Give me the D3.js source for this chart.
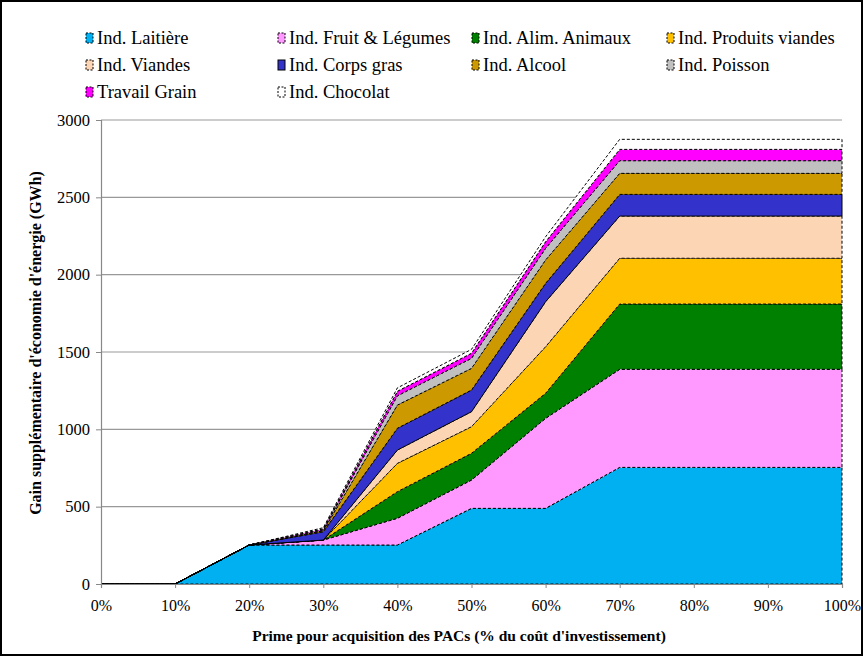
<!DOCTYPE html>
<html>
<head>
<meta charset="utf-8">
<script src="https://cdn.jsdelivr.net/npm/d3@7/dist/d3.min.js"></script>
<style>
  html, body { margin: 0; padding: 0; background: #fff; }
  svg { display: block; }
  text { font-family: "Liberation Serif", "Times New Roman", serif; fill: #000; }
</style>
</head>
<body>
<div id="chart"></div>
<script>
const categories = ["0%","10%","20%","30%","40%","50%","60%","70%","80%","90%","100%"];
const seriesNames = ["Ind. Laitière","Ind. Fruit & Légumes","Ind. Alim. Animaux","Ind. Produits viandes","Ind. Viandes","Ind. Corps gras","Ind. Alcool","Ind. Poisson","Travail Grain","Ind. Chocolat"];
const laitiere        = [0,0,252,252,252,489,489,754,754,754,754];
const fruitLegumes    = [0,0,0,32,173,183,582,634,634,634,634];
const alimAnimaux     = [0,0,0,0,172,173,162,422,422,422,422];
const produitsViandes = [0,0,0,0,183,172,301,296,296,296,296];
const viandes         = [0,0,0,0,86,97,291,273,273,273,273];
const corpsGras       = [0,0,0,54,141,140,119,140,140,140,140];
const alcool          = [0,0,0,6,150,140,151,136,136,136,136];
const poisson         = [0,0,0,6,60,65,75,82,82,82,82];
const travailGrain    = [0,0,0,6,29,33,43,73,73,73,73];
const chocolat        = [0,0,0,8,22,25,32,65,65,65,65];
const yTicks = [0,500,1000,1500,2000,2500,3000];

(function () {
const seriesValues = [laitiere,fruitLegumes,alimAnimaux,produitsViandes,viandes,corpsGras,alcool,poisson,travailGrain,chocolat];
const colors = ["#00B0F0","#FF99FF","#008000","#FFC000","#FCD5B5","#3333CC","#CC9900","#C0C0C0","#FF00FF","#FFFFFF"];
const dashes = ["3,2","3,2","3,2","3,2","3,2",null,"3,2","3,2","3,2","3,2"];
const FONT = "Liberation Serif";

const W = 863, H = 656;
const mLeft = 101, mRight = 842, mTop = 120, mBottom = 584;

const svg = d3.select("#chart").append("svg").attr("width", W).attr("height", H);

// outer frame
svg.append("rect").attr("x",1).attr("y",1).attr("width",W-2).attr("height",H-2)
  .attr("fill","none").attr("stroke","#000").attr("stroke-width",2);

const x = d3.scalePoint().domain(categories).range([mLeft, mRight]);
const y = d3.scaleLinear().domain([0, 3000]).range([mBottom, mTop]);

// gridlines
svg.append("g").selectAll("line").data(yTicks.filter(d => d > 0)).join("line")
  .attr("x1", mLeft).attr("x2", mRight)
  .attr("y1", d => y(d)).attr("y2", d => y(d))
  .attr("stroke", "#999").attr("stroke-width", 1.2);

// stacked data
const table = categories.map((c, i) => {
  const o = { cat: c };
  seriesNames.forEach((n, k) => { o[n] = seriesValues[k][i]; });
  return o;
});
const stacked = d3.stack().keys(seriesNames)(table);

const area = d3.area()
  .x(d => x(d.data.cat))
  .y0(d => y(d[0]))
  .y1(d => y(d[1]));

svg.append("g").selectAll("path").data(stacked).join("path")
  .attr("d", d => area(d) )
  .attr("fill", (d, i) => colors[i])
  .attr("stroke", "#000")
  .attr("stroke-width", 1)
  .attr("stroke-linejoin", "miter")
  .attr("stroke-dasharray", (d, i) => dashes[i]);

// y axis
const yAxis = d3.axisLeft(y).tickValues(yTicks).tickSize(5).tickPadding(6).tickFormat(d3.format("d"));
const gy = svg.append("g").attr("transform", `translate(${mLeft},0)`).call(yAxis)
  .attr("font-family", FONT);
gy.select(".domain").attr("stroke", "#888").attr("stroke-width", 1.2);
gy.selectAll(".tick line").attr("stroke", "#888");
gy.selectAll(".tick text").attr("font-size", 16.5).attr("font-family", FONT);

// x axis
const xAxis = d3.axisBottom(x).tickSize(4).tickPadding(12);
const gx = svg.append("g").attr("transform", `translate(0,${mBottom})`).call(xAxis)
  .attr("font-family", FONT);
gx.select(".domain").attr("stroke", "#888").attr("stroke-width", 1.2);
gx.selectAll(".tick line").attr("stroke", "#888");
gx.selectAll(".tick text").attr("font-size", 16).attr("font-family", FONT);

// axis titles
svg.append("text")
  .attr("x", 459).attr("y", 641)
  .attr("text-anchor", "middle")
  .attr("font-family", FONT)
  .attr("font-size", 15.5).attr("font-weight", "bold")
  .text("Prime pour acquisition des PACs (% du coût d'investissement)");

svg.append("text")
  .attr("transform", "translate(41,343) rotate(-90)")
  .attr("text-anchor", "middle")
  .attr("font-family", FONT)
  .attr("font-size", 16).attr("font-weight", "bold")
  .text("Gain supplémentaire d'économie d'énergie (GWh)");

// legend
const colX = [97, 289, 483, 678];
const rowY = [38, 65, 92];
const lg = svg.append("g").selectAll("g").data(seriesNames).join("g")
  .attr("transform", (d, i) => `translate(${colX[i % 4]},${rowY[Math.floor(i / 4)]})`);
lg.append("rect")
  .attr("x", -11).attr("y", -5).attr("width", 7).attr("height", 10)
  .attr("fill", (d, i) => colors[i])
  .attr("stroke", "#000").attr("stroke-width", 1)
  .attr("stroke-dasharray", (d, i) => dashes[i] ? "2,1.5" : null);
lg.append("text")
  .attr("x", 0).attr("y", 0).attr("dy", "0.35em")
  .attr("font-family", FONT)
  .attr("font-size", 18.5)
  .text(d => d);
})();
</script>
</body>
</html>
